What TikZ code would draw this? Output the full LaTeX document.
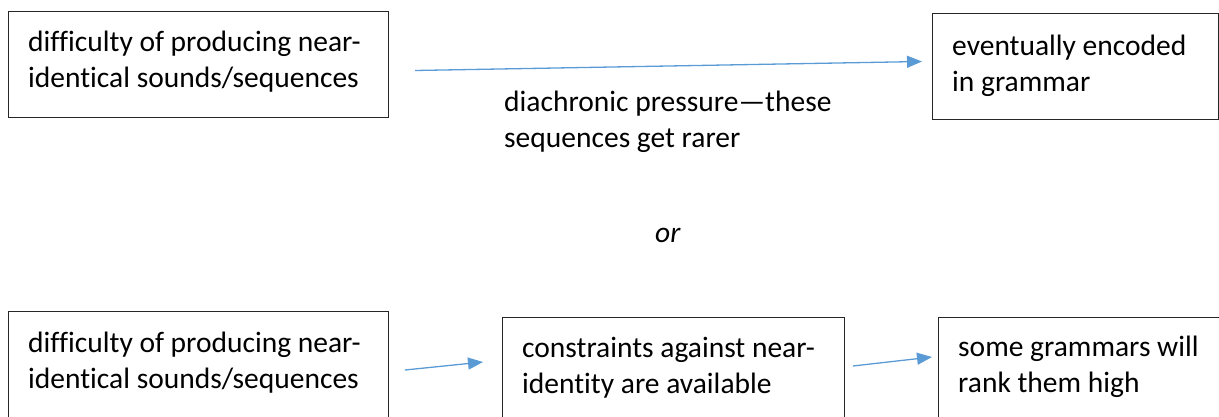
\documentclass[tikz,border=0pt]{standalone}
\usepackage{fontspec}
\setmainfont[Ligatures=NoCommon]{Carlito}
\usetikzlibrary{arrows.meta}
\definecolor{arrowblue}{HTML}{5B9BD5}
\definecolor{boxline}{HTML}{262626}
\tikzset{
  box/.style={draw=boxline, line width=1pt, anchor=north west, inner sep=0pt},
  % anchored at the baseline of the last line
  lbl/.style={anchor=base west, align=left, inner sep=0pt,
    font=\fontsize{29.5}{36}\selectfont},
  flow/.style={draw=arrowblue, line width=1.3pt,
    -{Triangle[length=15pt,width=12pt,fill=arrowblue]}},
}
\begin{document}
\begin{tikzpicture}[x=1pt,y=-1pt]
\useasboundingbox (0,0) rectangle (1219,417);
\clip (0,0) rectangle (1219,417);

% upper chain
\node[box, minimum width=380pt, minimum height=106pt] (b1) at (8,11) {};
\node[box, minimum width=286pt, minimum height=106pt] (b2) at (932,13) {};
\node[lbl] (t1) at (28,88) {difficulty of producing near-\\identical sounds/sequences};
\node[lbl] (t2) at (952,92) {eventually encoded\\in grammar};
\node[lbl] (mid) at (504,148) {diachronic pressure—these\\sequences get rarer};
\draw[flow] ([shift={(26,6)}]b1.east) -- ([shift={(-10,-5)}]b2.west);

% alternative
\node[lbl, font=\fontsize{29.5}{36}\selectfont\itshape] (or) at (655,242) {or};

% lower chain
\node[box, minimum width=380pt, minimum height=106pt] (b3) at (8,311) {};
\node[box, minimum width=342pt, minimum height=140pt] (b4) at (502,317) {};
\node[box, minimum width=300pt, minimum height=140pt] (b5) at (938,317) {};
\node[lbl] (t3) at (28,388) {difficulty of producing near-\\identical sounds/sequences};
\node[lbl] (t4) at (522,393) {constraints against near-\\identity are available};
\node[lbl] (t5) at (958,392) {some grammars will\\rank them high};
\draw[flow] ([shift={(16,59)}]b3.north east) -- ([shift={(-19,45)}]b4.north west);
\draw[flow] ([shift={(8,49)}]b4.north east) -- ([shift={(-6,40)}]b5.north west);
\end{tikzpicture}
\end{document}
